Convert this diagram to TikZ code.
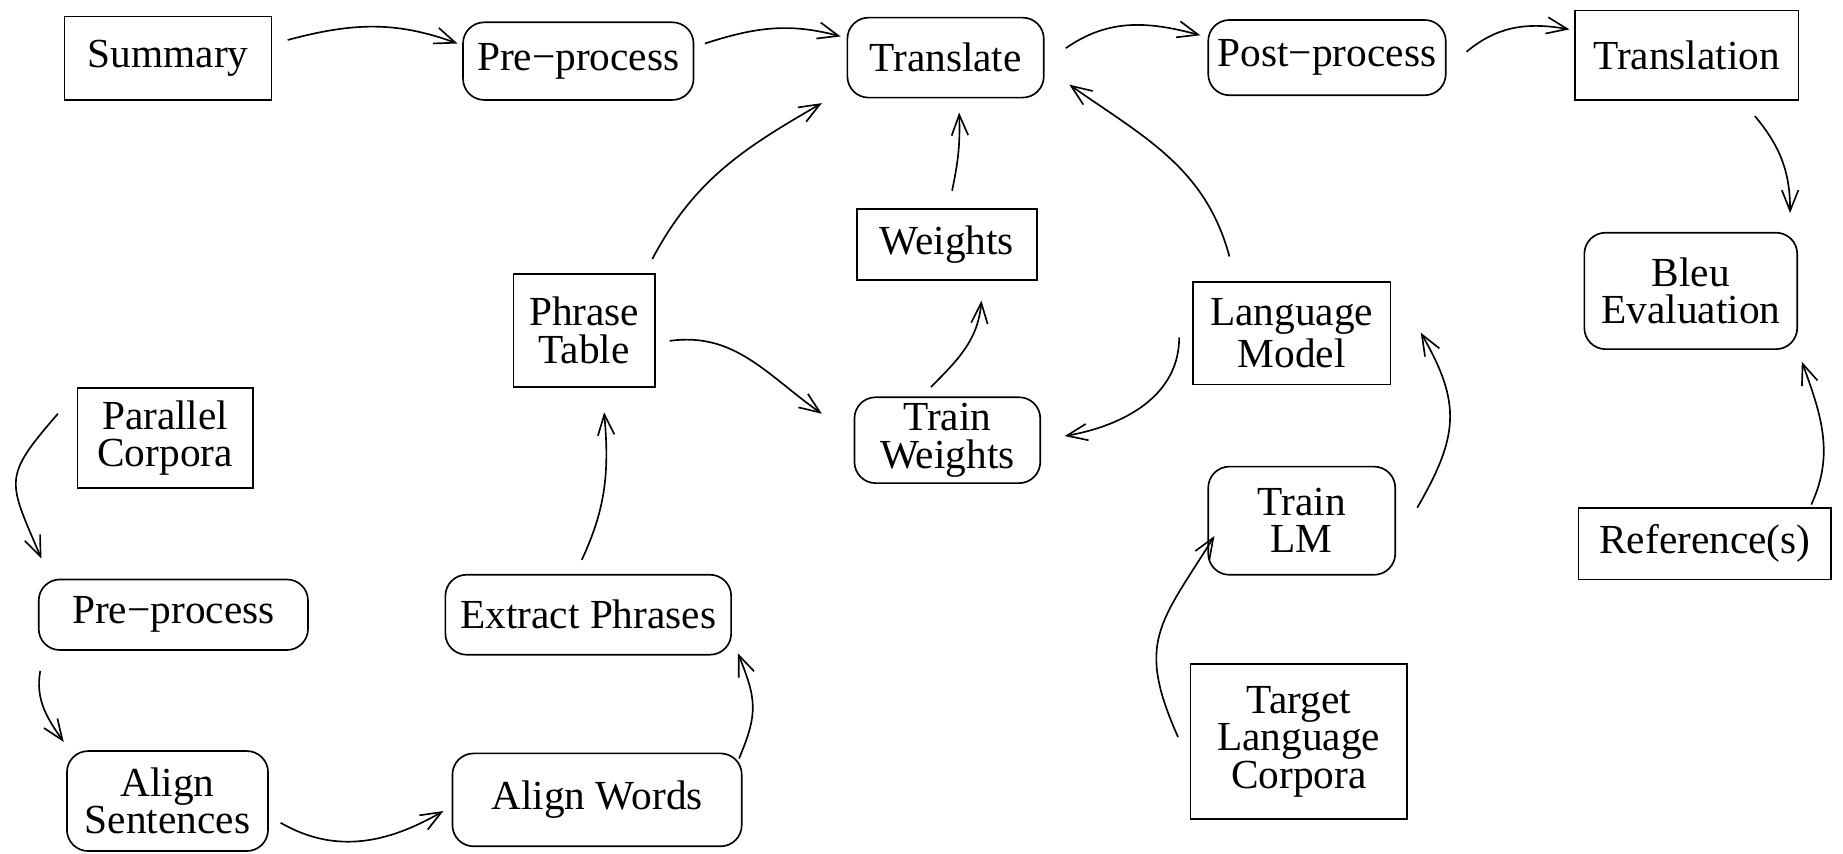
\documentclass[tikz,border=0pt]{standalone}
\usepackage{fontspec}
\setmainfont{Liberation Serif}
\usetikzlibrary{arrows.meta}

\begin{document}
\begin{tikzpicture}[x=0.01cm, y=0.01cm,
    font=\fontsize{10}{9}\selectfont,
    caja/.style={draw, align=center, inner sep=1pt},
    proc/.style={caja, rounded corners=0.18cm},
    flecha/.style={-{Straight Barb[length=5pt,width=4pt]}}]
    \useasboundingbox (0,0) rectangle (1568,-726);

    % Fila superior: del resumen a la traduccion final.
    \node[caja, minimum width=1.76cm, minimum height=0.71cm] (summary) at (143,-49.5) {Summary};
    \node[proc, minimum width=1.96cm, minimum height=0.66cm] (pre1) at (492,-52) {Pre−process};
    \node[proc, minimum width=1.67cm, minimum height=0.68cm] (translate) at (804.5,-49) {Translate};
    \node[proc, minimum width=2.02cm, minimum height=0.64cm] (post) at (1129,-49) {Post−process};
    \node[caja, minimum width=1.90cm, minimum height=0.76cm] (translation) at (1435,-47) {Translation};

    % Modelos que alimentan la traduccion.
    \node[caja, minimum width=1.53cm, minimum height=0.60cm] (weights) at (805.5,-208) {Weights};
    \node[caja, minimum width=1.20cm, minimum height=0.96cm] (phrasetable) at (497,-281) {Phrase\\Table};
    \node[proc, minimum width=1.58cm, minimum height=0.73cm] (trainw) at (806,-374.5) {Train\\Weights};
    \node[caja, minimum width=1.68cm, minimum height=0.87cm] (langmodel) at (1099,-283.5) {Language\\Model};
    \node[proc, minimum width=1.59cm, minimum height=0.92cm] (trainlm) at (1107.5,-443) {Train\\LM};
    \node[caja, minimum width=1.84cm, minimum height=1.32cm] (target) at (1105,-631) {Target\\Language\\Corpora};

    % Evaluacion.
    \node[proc, minimum width=1.81cm, minimum height=0.99cm] (bleu) at (1438.5,-247.5) {Bleu\\Evaluation};
    \node[caja, minimum width=2.15cm, minimum height=0.61cm] (refs) at (1450.5,-462.5) {Reference(s)};

    % Corpus paralelo y alineamiento.
    \node[caja, minimum width=1.49cm, minimum height=0.85cm] (parallel) at (140.5,-372.5) {Parallel\\Corpora};
    \node[proc, minimum width=2.29cm, minimum height=0.60cm] (pre2) at (147.5,-523) {Pre−process};
    \node[proc, minimum width=1.71cm, minimum height=0.85cm] (alignsent) at (142.5,-681.5) {Align\\Sentences};
    \node[proc, minimum width=2.46cm, minimum height=0.79cm] (alignwords) at (508,-680.5) {Align Words};
    \node[proc, minimum width=2.43cm, minimum height=0.68cm] (extract) at (500.5,-523) {Extract Phrases};

    % Flechas; cada extremo se separa un poco de su caja.
    \draw[flecha] ([shift={(13,15.5)}]summary.east) to[out=15, in=160] ([shift={(-4,15)}]pre1.west);
    \draw[flecha] ([shift={(9,15)}]pre1.east) to[out=18, in=165] ([shift={(-5,18)}]translate.west);
    \draw[flecha] ([shift={(18,8)}]translate.east) to[out=35, in=165] ([shift={(-6,19)}]post.west);
    \draw[flecha] ([shift={(17,5)}]post.east) to[out=40, in=170] ([shift={(-4,22)}]translation.west);
    \draw[flecha] ([shift={(58,-13)}]translation.south) to[out=-50, in=90] ([shift={(84.5,16)}]bleu.north);
    \draw[flecha] ([shift={(90.5,2)}]refs.north) to[out=65, in=-70] ([shift={(94.5,-10)}]bleu.south);

    \draw[flecha] ([shift={(58,12)}]phrasetable.north) to[out=62, in=210] ([shift={(-21,-4)}]translate.south west);
    \draw[flecha] ([shift={(4.5,15)}]weights.north) to[out=78, in=-88] ([shift={(11.5,-12)}]translate.south);
    \draw[flecha] ([shift={(-14,8)}]trainw.north) to[out=45, in=-95] ([shift={(29.5,-17)}]weights.south);
    \draw[flecha] ([shift={(12,-9)}]phrasetable.east) to[out=8, in=145] ([shift={(-27,22.5)}]trainw.west);
    \draw[flecha] ([shift={(-53,21)}]langmodel.north) to[out=105, in=-35] ([shift={(21,-23)}]translate.east);
    \draw[flecha] ([shift={(-11,-3.5)}]langmodel.west) to[out=-90, in=10] ([shift={(20,3.5)}]trainw.east);
    \draw[flecha] ([shift={(18,11)}]trainlm.east) to[out=60, in=-60, looseness=1.2] ([shift={(25,0.5)}]langmodel.east);
    \draw[flecha] ([shift={(-10,4)}]target.west) to[out=114, in=-122, looseness=1.3] ([shift={(6,-13)}]trainlm.west);

    \draw[flecha] ([shift={(-16,20.5)}]parallel.west) to[out=229, in=113, looseness=1.5] ([shift={(3,17)}]pre2.north west);
    \draw[flecha] ([shift={(2,-17)}]pre2.south west) to[out=260, in=125] ([shift={(-2,7)}]alignsent.north west);
    \draw[flecha] ([shift={(10,-18.5)}]alignsent.east) to[out=-30, in=-150] ([shift={(-7,-9.5)}]alignwords.west);
    \draw[flecha] ([shift={(-3,-5)}]alignwords.north east) to[out=67, in=-68, looseness=1.2] ([shift={(5,2)}]extract.south east);
    \draw[flecha] ([shift={(-5.5,12)}]extract.north) to[out=65, in=-85] ([shift={(17,-21)}]phrasetable.south);
\end{tikzpicture}
\end{document}
